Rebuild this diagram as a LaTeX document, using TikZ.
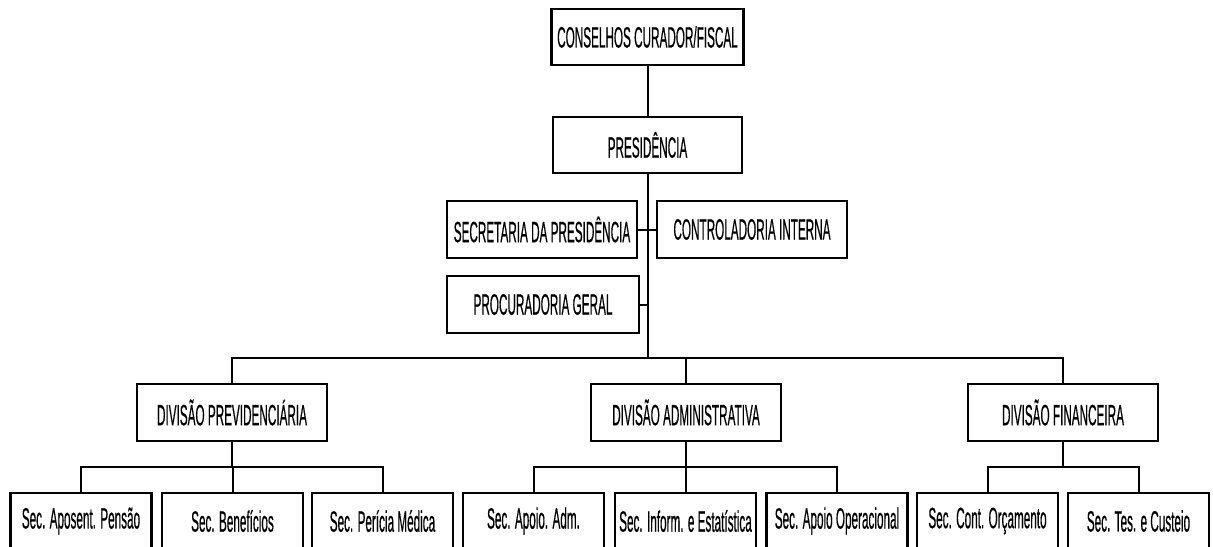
\documentclass[tikz,border=0pt]{standalone}
\usepackage{fontspec}
\usepackage{graphicx}
\setmainfont{Liberation Sans}[FakeBold=0.8]
\newcommand\narrowtext[1]{\scalebox{0.40}[1]{#1}}
\begin{document}
\begin{tikzpicture}[x=0.75pt,y=-0.75pt,
  box/.style={draw, line width=1.6pt, inner sep=0pt, align=center,
    font=\fontsize{22pt}{26pt}\selectfont},
  bw/.style={minimum width=#1*0.75pt},
  bh/.style={minimum height=#1*0.75pt},
  topbox/.style={box, bw=190, bh=57},
  subbox/.style={box, bw=141, bh=56},
  link/.style={line width=1.5pt}]
\fill[white] (0,0) rectangle (1213,546);
\useasboundingbox (0,0) rectangle (1213,546);
\clip (0,0) rectangle (1213,546);
% top
\node[box, bw=192, bh=56] (cons) at (647.5,37) {\narrowtext{CONSELHOS CURADOR/FISCAL}};
\node[box, bw=189, bh=56] (pres) at (647.5,145) {\narrowtext{PRESIDÊNCIA}};
\node[topbox] (sec) at (542,229.5) {\narrowtext{SECRETARIA DA PRESIDÊNCIA}};
\node[topbox] (ctrl) at (752,229.5) {\narrowtext{CONTROLADORIA INTERNA}};
\node[box, bw=192, bh=57] (proc) at (543,304.5) {\narrowtext{PROCURADORIA GERAL}};
% divisions
\node[topbox] (dprev) at (232,412.5) {\narrowtext{DIVISÃO PREVIDENCIÁRIA}};
\node[topbox] (dadm) at (686,412.5) {\narrowtext{DIVISÃO ADMINISTRATIVA}};
\node[topbox] (dfin) at (1063,412.5) {\narrowtext{DIVISÃO FINANCEIRA}};
% sections
\node[subbox] (p1) at (81,521) {\narrowtext{Sec. Aposent. Pensão}};
\node[subbox] (p2) at (232.5,521) {\narrowtext{Sec. Benefícios}};
\node[subbox] (p3) at (382.5,521) {\narrowtext{Sec. Perícia Médica}};
\node[subbox] (a1) at (533.5,521) {\narrowtext{Sec. Apoio. Adm.}};
\node[subbox] (a2) at (685.5,521) {\narrowtext{Sec. Inform. e Estatística}};
\node[subbox] (a3) at (837,521) {\narrowtext{Sec. Apoio Operacional}};
\node[subbox] (f1) at (987.5,521) {\narrowtext{Sec. Cont. Orçamento}};
\node[subbox] (f2) at (1138.5,521) {\narrowtext{Sec. Tes. e Custeio}};
% junctions
\coordinate (j) at (647.5,358);
\coordinate (jp) at (232,467);
\coordinate (ja) at (686,467);
\coordinate (jf) at (1063,467);
% connectors
\draw[link] (cons.south) -- (pres.north);
\draw[link] (pres.south) -- (j);
\draw[link] (sec.east) -- (ctrl.west);
\draw[link] (proc.east) -- (proc.east -| j);
\draw[link] (dprev.north) -- (dprev.north |- j) -- (dfin.north |- j) -- (dfin.north);
\draw[link] (dadm.north) -- (dadm.north |- j);
\draw[link] (dprev.south) -- (jp);
\draw[link] (p1.north) -- (p1.north |- jp) -- (p3.north |- jp) -- (p3.north);
\draw[link] (p2.north) -- (p2.north |- jp);
\draw[link] (dadm.south) -- (ja);
\draw[link] (a1.north) -- (a1.north |- ja) -- (a3.north |- ja) -- (a3.north);
\draw[link] (a2.north) -- (a2.north |- ja);
\draw[link] (dfin.south) -- (jf);
\draw[link] (f1.north) -- (f1.north |- jf) -- (f2.north |- jf) -- (f2.north);
\end{tikzpicture}
\end{document}
